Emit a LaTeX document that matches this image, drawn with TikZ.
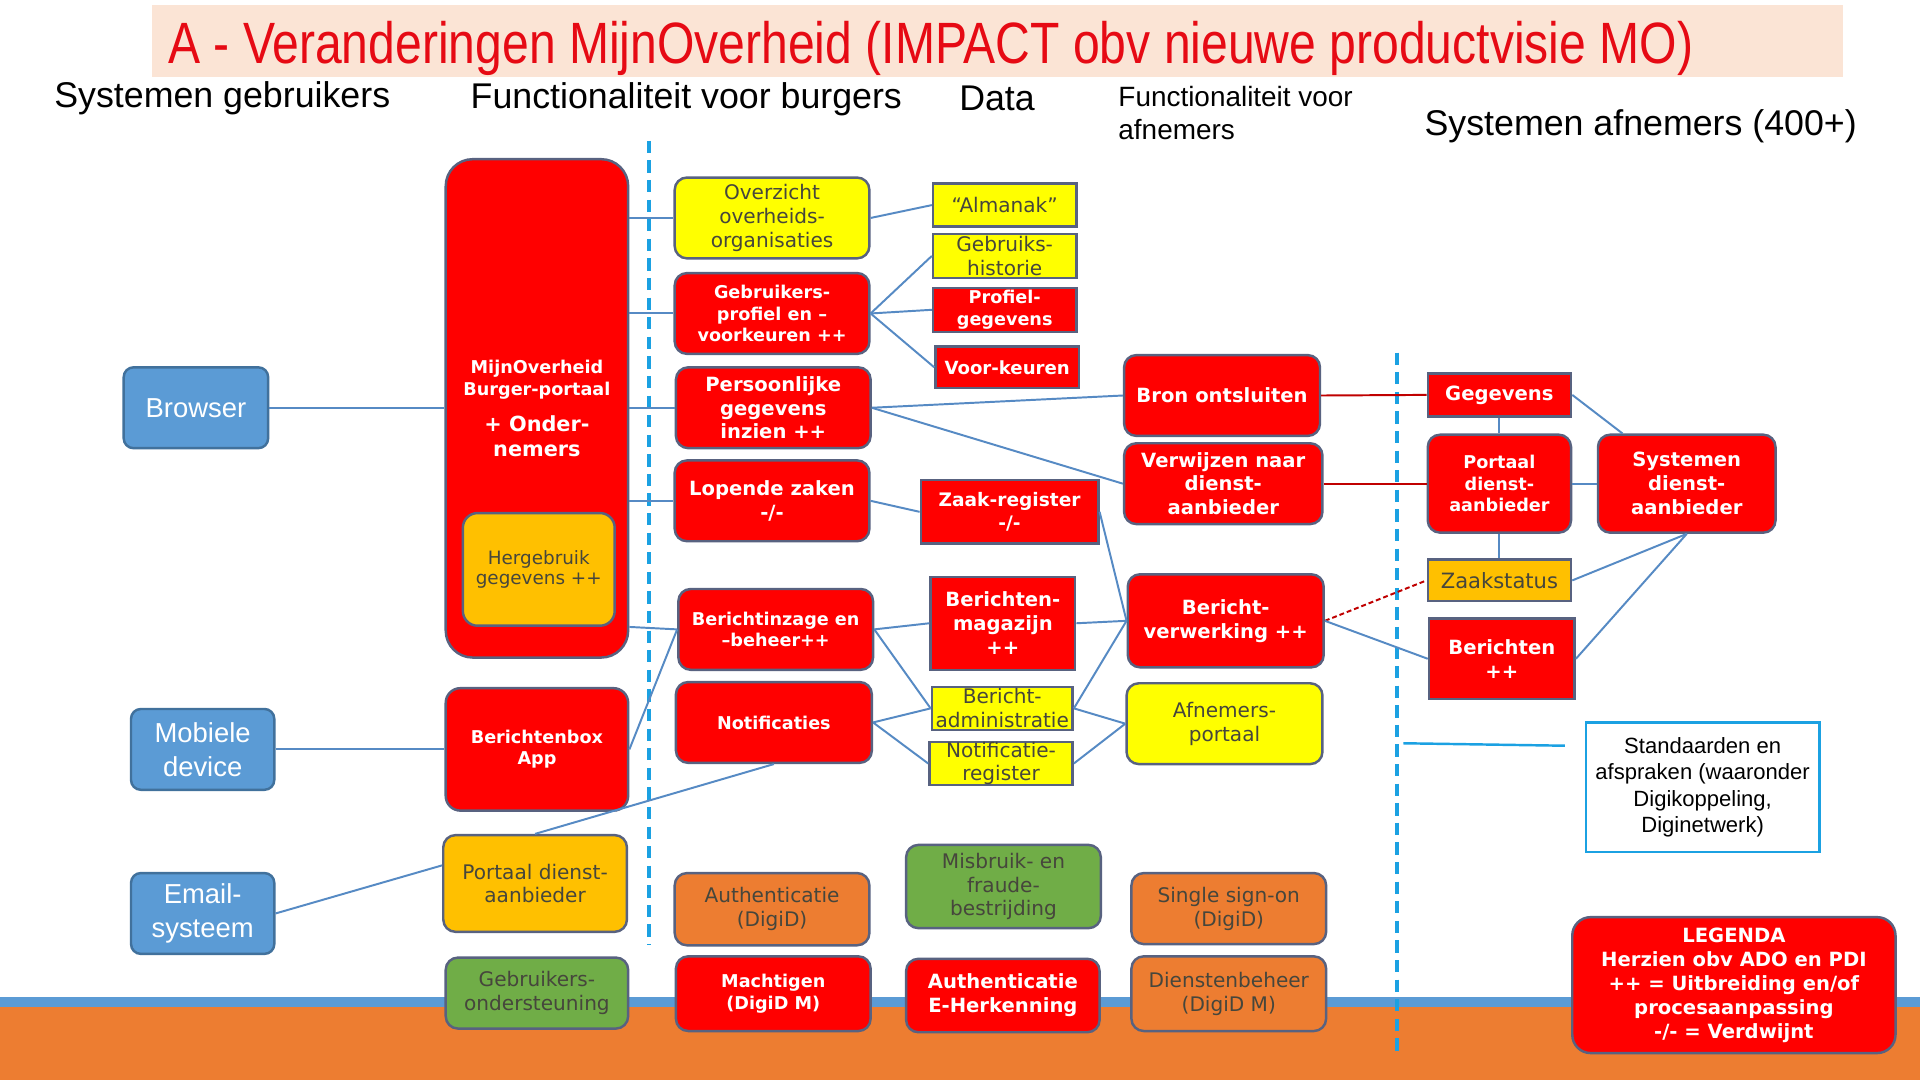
\documentclass[tikz,border=0pt]{standalone}
\usepackage{fontspec}
\setmainfont{DejaVu Sans}
\newfontfamily\arialfont{Liberation Sans}
\newfontfamily\titlefont{Liberation Sans}[FakeStretch=0.825]

\definecolor{mored}{RGB}{255,0,0}
\definecolor{moyellow}{RGB}{255,255,0}
\definecolor{mogold}{RGB}{255,192,0}
\definecolor{moorange}{RGB}{237,125,49}
\definecolor{mogreen}{RGB}{112,173,71}
\definecolor{moblue}{RGB}{91,155,213}
\definecolor{boxline}{RGB}{88,98,128}
\definecolor{blueline}{RGB}{65,113,156}
\definecolor{linkblue}{RGB}{86,138,196}
\definecolor{darkred}{RGB}{192,0,0}
\definecolor{cyanline}{RGB}{27,161,226}
\definecolor{peach}{RGB}{251,228,213}
\definecolor{titlered}{RGB}{230,10,20}
\definecolor{textgray}{RGB}{70,70,60}

\newcommand\regtxt{\fontsize{8.2}{9.75}\selectfont}
\newcommand\bigtxt{\bfseries\fontsize{8}{9.75}\selectfont}
\newcommand\smalltxt{\bfseries\fontsize{7.2}{8.75}\selectfont}

\tikzset{
  sz/.style 2 args={minimum width=#1*0.5pt, minimum height=#2*0.5pt},
  box/.style={draw=boxline, line width=1pt, inner sep=0pt, align=center, text=textgray, font=\regtxt},
  rnd/.style={rounded corners=5pt},
  yellowbox/.style={box, fill=moyellow},
  goldbox/.style={box, fill=mogold},
  orangebox/.style={box, rnd, fill=moorange},
  greenbox/.style={box, rnd, fill=mogreen},
  redbox/.style={box, fill=mored, text=white, font=\bigtxt},
  smallred/.style={redbox, font=\smalltxt},
  userbox/.style={draw=blueline, line width=1pt, fill=moblue, rounded corners=4pt, inner sep=0pt, align=center, text=white, font=\arialfont\fontsize{11.2}{14}\selectfont},
  header/.style={anchor=base west, inner sep=0pt, font=\arialfont\fontsize{14.6}{17}\selectfont},
  link/.style={draw=linkblue, line width=0.8pt},
  redlink/.style={draw=darkred, line width=0.8pt},
  divider/.style={draw=cyanline, line width=1.5pt, dash pattern=on 5pt off 3pt},
}

\begin{document}
\begin{tikzpicture}[x=0.5pt, y=-0.5pt]

% Achtergrond
\fill[white] (0,0) rectangle (1568,882);
\useasboundingbox (0,0) rectangle (1568,882);

% Onderbalk
\fill[moblue] (0,814) rectangle (1568,822);
\fill[moorange] (0,822) rectangle (1568,882);

% Titel
\fill[peach] (124,4) rectangle (1505,63);
\node[anchor=base west, inner sep=0pt, text=titlered,
  font=\titlefont\fontsize{23.8}{28}\selectfont] (titel) at (137,52)
{A - Veranderingen MijnOverheid (IMPACT obv nieuwe productvisie MO)};

% Kolomkoppen
\node[header] (kopGebruikers) at (44,88) {Systemen gebruikers};
\node[header] (kopBurgers) at (384,89) {Functionaliteit voor burgers};
\node[header] (kopData) at (783,90) {Data};
\node[header, anchor=north west, align=left,
  font=\arialfont\fontsize{11.4}{13.5}\selectfont] (kopAfnFunc) at (913,70)
{Functionaliteit voor\\afnemers};
\node[header] (kopAfnSys) at (1163,111) {Systemen afnemers (400+)};

% Scheidingslijnen
\coordinate (scheidA1) at (530,115);
\coordinate (scheidA2) at (530,772);
\coordinate (scheidB1) at (1141,288);
\coordinate (scheidB2) at (1141,862);
\draw[divider] (scheidA1) -- (scheidA2);
\draw[divider] (scheidB1) -- (scheidB2);

% Systemen gebruikers
\node[userbox, sz={118}{66}] (browser) at (160,333) {Browser};
\node[userbox, sz={117}{66}] (mobiel) at (165.5,612) {Mobiele\\device};
\node[userbox, sz={117}{66}] (email) at (165.5,746) {Email-\\systeem};

% Portalen
\node[smallred, rounded corners=11pt, sz={149}{407}] (mijnoverheid) at (438.5,333.5)
{MijnOverheid\\Burger-portaal\\[6pt]{\fontsize{8.5}{10}\selectfont + Onder-}\\[1.5pt]{\fontsize{8.5}{10}\selectfont nemers}};
\node[goldbox, rounded corners=6pt, sz={124}{92},
  font=\fontsize{7.5}{8}\selectfont] (hergebruik) at (440,465)
{Hergebruik\\gegevens ++};
\node[smallred, rounded corners=6pt, sz={149}{100}] (berichtenbox) at (438.5,612) {Berichtenbox\\App};
\node[goldbox, rnd, sz={150}{79}] (portaalGebr) at (437,721.5) {Portaal dienst-\\aanbieder};
\node[greenbox, sz={149}{58}] (ondersteuning) at (438.5,811) {Gebruikers-\\ondersteuning};

% Functionaliteit voor burgers
\node[yellowbox, rnd, sz={159}{66}] (overzicht) at (630.5,178) {Overzicht\\overheids-\\organisaties};
\node[smallred, rnd, sz={159}{66}] (profiel) at (630.5,256) {Gebruikers-\\profiel en –\\voorkeuren ++};
\node[redbox, rnd, sz={159}{66}] (persoonlijk) at (631.5,333) {Persoonlijke\\gegevens\\inzien ++};
\node[redbox, rnd, sz={159}{66}] (lopend) at (630.5,409) {Lopende zaken\\-/-};
\node[smallred, rnd, sz={159}{66}] (inzage) at (633.5,514) {Berichtinzage en\\–beheer++};
\node[smallred, rnd, sz={160}{66}] (notificaties) at (632,590) {Notificaties};
\node[orangebox, sz={159}{59}] (authDigid) at (630.5,742.5) {Authenticatie\\(DigiD)};
\node[smallred, rnd, sz={159}{61}] (machtigen) at (631.5,811.5) {Machtigen\\(DigiD M)};

% Data
\node[yellowbox, sz={117}{35}] (almanak) at (820.5,167.5) {“Almanak”};
\node[yellowbox, sz={117}{36}] (historie) at (820.5,209) {Gebruiks-\\historie};
\node[smallred, sz={117}{36}] (profielGeg) at (820.5,253) {Profiel-\\gegevens};
\node[smallred, sz={117}{34}, font=\bfseries\fontsize{7.4}{9}\selectfont] (voorkeuren) at (822.5,300) {Voor-keuren};
\node[redbox, sz={145}{52}, font=\bfseries\fontsize{7.6}{9.5}\selectfont] (zaakregister) at (824.5,418) {Zaak-register\\-/-};
\node[redbox, sz={118}{76}] (magazijn) at (819,509) {Berichten-\\magazijn\\++};
\node[yellowbox, sz={115}{35}] (administratie) at (818.5,578.5) {Bericht-\\administratie};
\node[yellowbox, sz={117}{35}] (notifRegister) at (817.5,623.5) {Notificatie-\\register};
\node[greenbox, sz={159}{68}] (misbruik) at (819.5,724) {Misbruik- en\\fraude-\\bestrijding};
\node[redbox, rnd, sz={158}{60}] (eherkenning) at (819,813) {Authenticatie\\E-Herkenning};

% Functionaliteit voor afnemers
\node[redbox, rnd, sz={160}{66}] (bron) at (998,323) {Bron ontsluiten};
\node[redbox, rnd, sz={162}{66}] (verwijzen) at (999,395) {Verwijzen naar\\dienst-\\aanbieder};
\node[redbox, rnd, sz={160}{76}] (verwerking) at (1001,507) {Bericht-\\verwerking ++};
\node[yellowbox, rnd, sz={160}{66}] (afnPortaal) at (1000,591) {Afnemers-\\portaal};
\node[orangebox, sz={159}{58}] (sso) at (1003.5,742) {Single sign-on\\(DigiD)};
\node[orangebox, sz={159}{61}] (dienstenbeheer) at (1003.5,811.5) {Dienstenbeheer\\(DigiD M)};

% Systemen afnemers
\node[redbox, sz={117}{35}] (gegevens) at (1224.5,322.5) {Gegevens};
\node[smallred, rnd, sz={117}{80}] (portaalAanb) at (1224.5,395) {Portaal\\dienst-\\aanbieder};
\node[goldbox, sz={117}{34}, font=\fontsize{8.6}{10}\selectfont] (zaakstatus) at (1224.5,474) {Zaakstatus};
\node[redbox, sz={119}{66}] (berichten) at (1226.5,538) {Berichten\\++};
\node[redbox, rnd, sz={145}{80}] (sysAanb) at (1377.5,395) {Systemen\\dienst-\\aanbieder};
\node[draw=cyanline, line width=1pt, fill=white, sz={191}{106}, inner sep=0pt, align=center,
  font=\arialfont\fontsize{9}{10.85}\selectfont] (standaarden) at (1390.5,643)
{Standaarden en\\afspraken (waaronder\\Digikoppeling,\\Diginetwerk)};

% Legenda
\node[redbox, rounded corners=7.5pt, sz={264}{111}] (legenda) at (1416,804.5)
{LEGENDA\\Herzien obv ADO en PDI\\++ = Uitbreiding en/of\\procesaanpassing\\-/- = Verdwijnt};

% Verbindingen gebruikers
\draw[link] (browser.east) -- (browser.east -| mijnoverheid.west);
\draw[link] (mobiel.east) -- (berichtenbox.west);
\draw[link] (email.east) -- (portaalGebr.169);
\draw[link] (portaalGebr.north) -- (notificaties.south);

% Portaal naar functies
\foreach \f in {overzicht, profiel, persoonlijk, lopend}
  \draw[link] (mijnoverheid.east |- \f.west) -- (\f.west);
\draw[link] (mijnoverheid.east |- hergebruik.south) -- (inzage.west);
\draw[link] (berichtenbox.east) -- (inzage.west);

% Functies naar data
\draw[link] (overzicht.east) -- (almanak.west);
\foreach \d in {historie, profielGeg, voorkeuren}
  \draw[link] (profiel.east) -- (\d.west);
\draw[link] (persoonlijk.east) -- (bron.west);
\draw[link] (persoonlijk.east) -- (verwijzen.west);
\draw[link] (lopend.east) -- (zaakregister.west);
\draw[link] (inzage.east) -- (magazijn.west);
\draw[link] (inzage.east) -- (administratie.west);
\draw[link] (notificaties.east) -- (administratie.west);
\draw[link] (notificaties.east) -- (notifRegister.west);

% Data naar afnemers
\foreach \d in {zaakregister, magazijn, administratie}
  \draw[link] (\d.east) -- (verwerking.west);
\draw[link] (administratie.east) -- (afnPortaal.west);
\draw[link] (notifRegister.east) -- (afnPortaal.west);

% Koppelingen met dienstaanbieders
\draw[redlink] (bron.east) -- (gegevens.west);
\draw[redlink] (verwijzen.east) -- (portaalAanb.west);
\draw[redlink, dash pattern=on 2pt off 1.2pt] (verwerking.east) -- (zaakstatus.west);
\draw[link] (verwerking.east) -- (berichten.west);
\draw[link] (gegevens.south) -- (portaalAanb.north);
\draw[link] (portaalAanb.south) -- (zaakstatus.north);
\draw[link] (gegevens.east) -- (sysAanb.142);
\draw[link] (portaalAanb.east) -- (sysAanb.west);
\draw[link] (zaakstatus.east) -- (sysAanb.south);
\draw[link] (berichten.east) -- (sysAanb.south);

% Standaarden
\coordinate (stdBegin) at (1146,607);
\coordinate (stdEind) at (1278,609);
\draw[cyanline, line width=1pt] (stdBegin) -- (stdEind);

\end{tikzpicture}
\end{document}
